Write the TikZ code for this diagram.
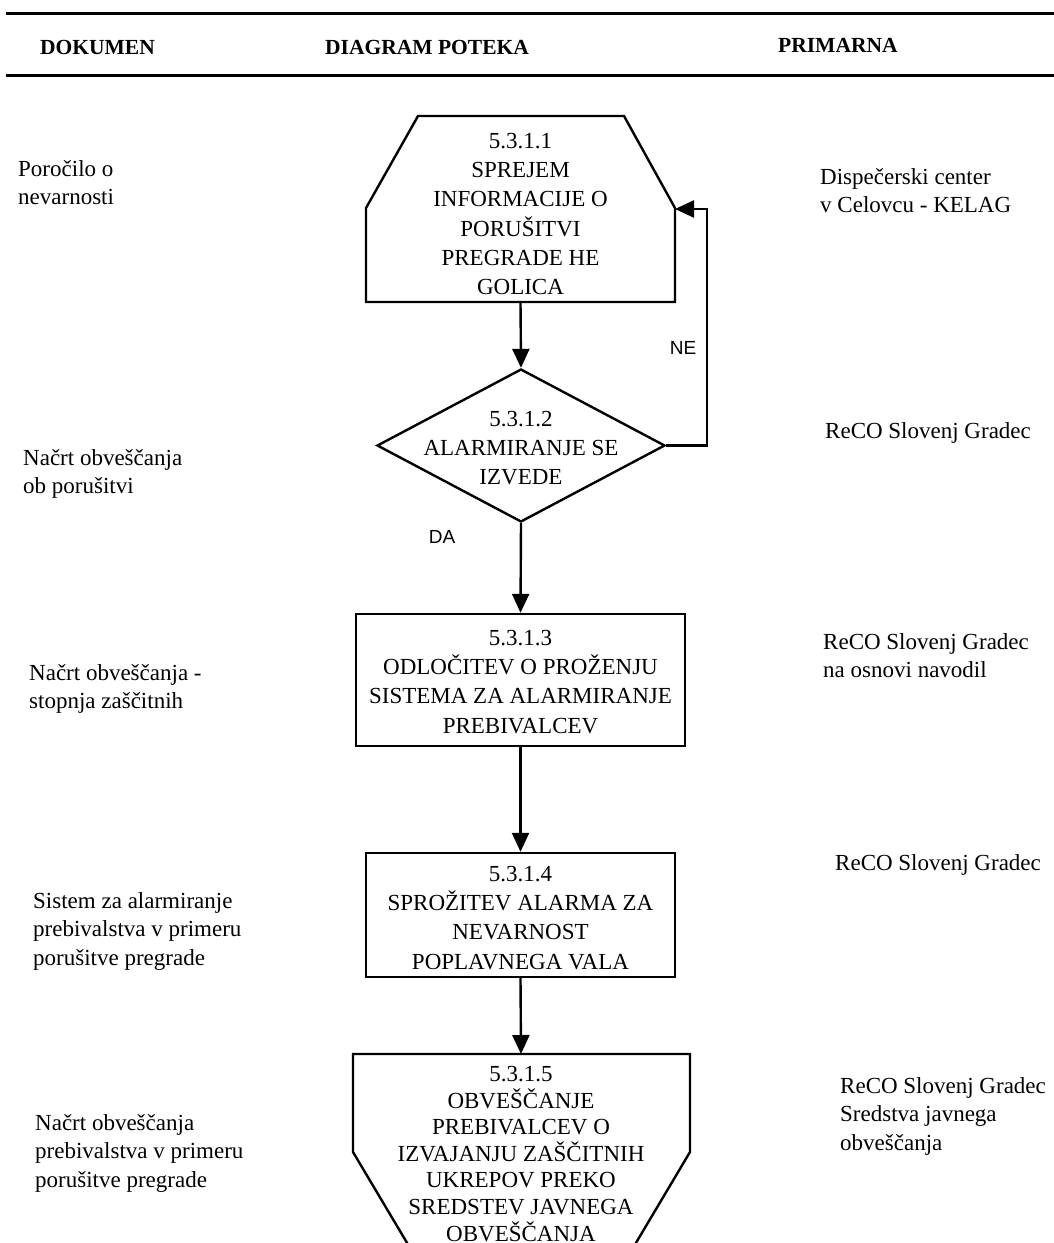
\documentclass[tikz,border=0pt]{standalone}
\usepackage{fontspec}
\setmainfont{Liberation Serif}
\newfontfamily\arialfont{Liberation Sans}
\usetikzlibrary{arrows.meta,positioning,shapes.geometric}

\tikzset{
	flowline/.style={line width=2.4pt, -{Triangle[length=19pt,width=17pt]}},
	shapeline/.style={line width=2.4pt, line join=miter},
	headrule/.style={line width=3pt},
	procbox/.style={draw, line width=2.4pt, minimum width=#1, inner sep=0pt},
	decision/.style={draw, diamond, line width=2.4pt, inner sep=0pt, minimum width=288pt, minimum height=153pt},
	steptext/.style={align=center, anchor=north, inner sep=0pt, font=\fontsize{23}{29.2}\selectfont},
	sidetext/.style={align=left, anchor=north west, inner sep=0pt, font=\fontsize{23}{28.5}\selectfont},
	headtext/.style={anchor=west, inner sep=0pt, font=\fontsize{21.5}{24}\selectfont\bfseries},
	yesno/.style={inner sep=0pt, font=\arialfont\fontsize{19}{22}\selectfont}
}

\begin{document}
\begin{tikzpicture}[x=1pt,y=-1pt]
	\useasboundingbox (0,0) rectangle (1054,1243);
	\clip (0,0) rectangle (1054,1243);

	\draw[headrule] (6,13) -- (1054,13);
	\draw[headrule] (6,75) -- (1054,75);
	\node[headtext] (hdok) at (40,47) {DOKUMEN};
	\node[headtext] (hdiag) at (325,47) {DIAGRAM POTEKA};
	\node[headtext] (hprim) at (778,45) {PRIMARNA};

	\draw[shapeline] (418,116) -- (624,116) -- (675,208) -- (675,302) -- (366,302) -- (366,208) -- cycle;
	\coordinate (b1s) at (520.5,302);
	\coordinate (b1e) at (675,209);
	\node[steptext] (b1) at (520.5,133) {5.3.1.1\\SPREJEM\\INFORMACIJE O\\PORUŠITVI\\PREGRADE HE\\GOLICA};

	\node[decision] (d1) at (521,445.5) {};
	\node[steptext] (d1t) at (521,411) {5.3.1.2\\ALARMIRANJE SE\\IZVEDE};

	\node[procbox=329pt, minimum height=132pt] (b3) at (520.5,680) {};
	\node[steptext] (b3t) at (520.5,630) {5.3.1.3\\ODLOČITEV O PROŽENJU\\SISTEMA ZA ALARMIRANJE\\PREBIVALCEV};

	\node[procbox=309pt, minimum height=124pt] (b4) at (520.5,915) {};
	\node[steptext] (b4t) at (520.5,866) {5.3.1.4\\SPROŽITEV ALARMA ZA\\NEVARNOST\\POPLAVNEGA VALA};

	\draw[shapeline] (353,1054) -- (690,1054) -- (690,1152) -- (602,1300) -- (441,1300) -- (353,1152) -- cycle;
	\coordinate (b5n) at (521,1054);
	\node[steptext, font=\fontsize{23}{26.6}\selectfont] (b5) at (521,1066) {5.3.1.5\\OBVEŠČANJE\\PREBIVALCEV O\\IZVAJANJU ZAŠČITNIH\\UKREPOV PREKO\\SREDSTEV JAVNEGA\\OBVEŠČANJA};

	\draw[flowline] (b1s) -- (d1.north);
	\draw[flowline] (d1.south) -- (b3.north);
	\draw[flowline] (b3.south) -- (b4.north);
	\draw[flowline] (b4.south) -- (b5n);
	\draw[flowline] (d1.east) -| (707,300) |- (b1e);
	\node[yesno] (ne) at (683,348) {NE};
	\node[yesno] (da) at (442,537) {DA};

	\node[sidetext] (l1) at (18,160) {Poročilo o\\nevarnosti};
	\node[sidetext] (l2) at (23,449) {Načrt obveščanja\\ob porušitvi};
	\node[sidetext] (l3) at (29,664) {Načrt obveščanja -\\stopnja zaščitnih};
	\node[sidetext] (l4) at (33,892) {Sistem za alarmiranje\\prebivalstva v primeru\\porušitve pregrade};
	\node[sidetext] (l5) at (35,1114) {Načrt obveščanja\\prebivalstva v primeru\\porušitve pregrade};

	\node[sidetext] (r1) at (820,168) {Dispečerski center\\v Celovcu - KELAG};
	\node[sidetext] (r2) at (825,422) {ReCO Slovenj Gradec};
	\node[sidetext] (r3) at (823,633) {ReCO Slovenj Gradec\\na osnovi navodil};
	\node[sidetext] (r4) at (835,854) {ReCO Slovenj Gradec};
	\node[sidetext] (r5) at (840,1077) {ReCO Slovenj Gradec\\Sredstva javnega\\obveščanja};
\end{tikzpicture}
\end{document}
